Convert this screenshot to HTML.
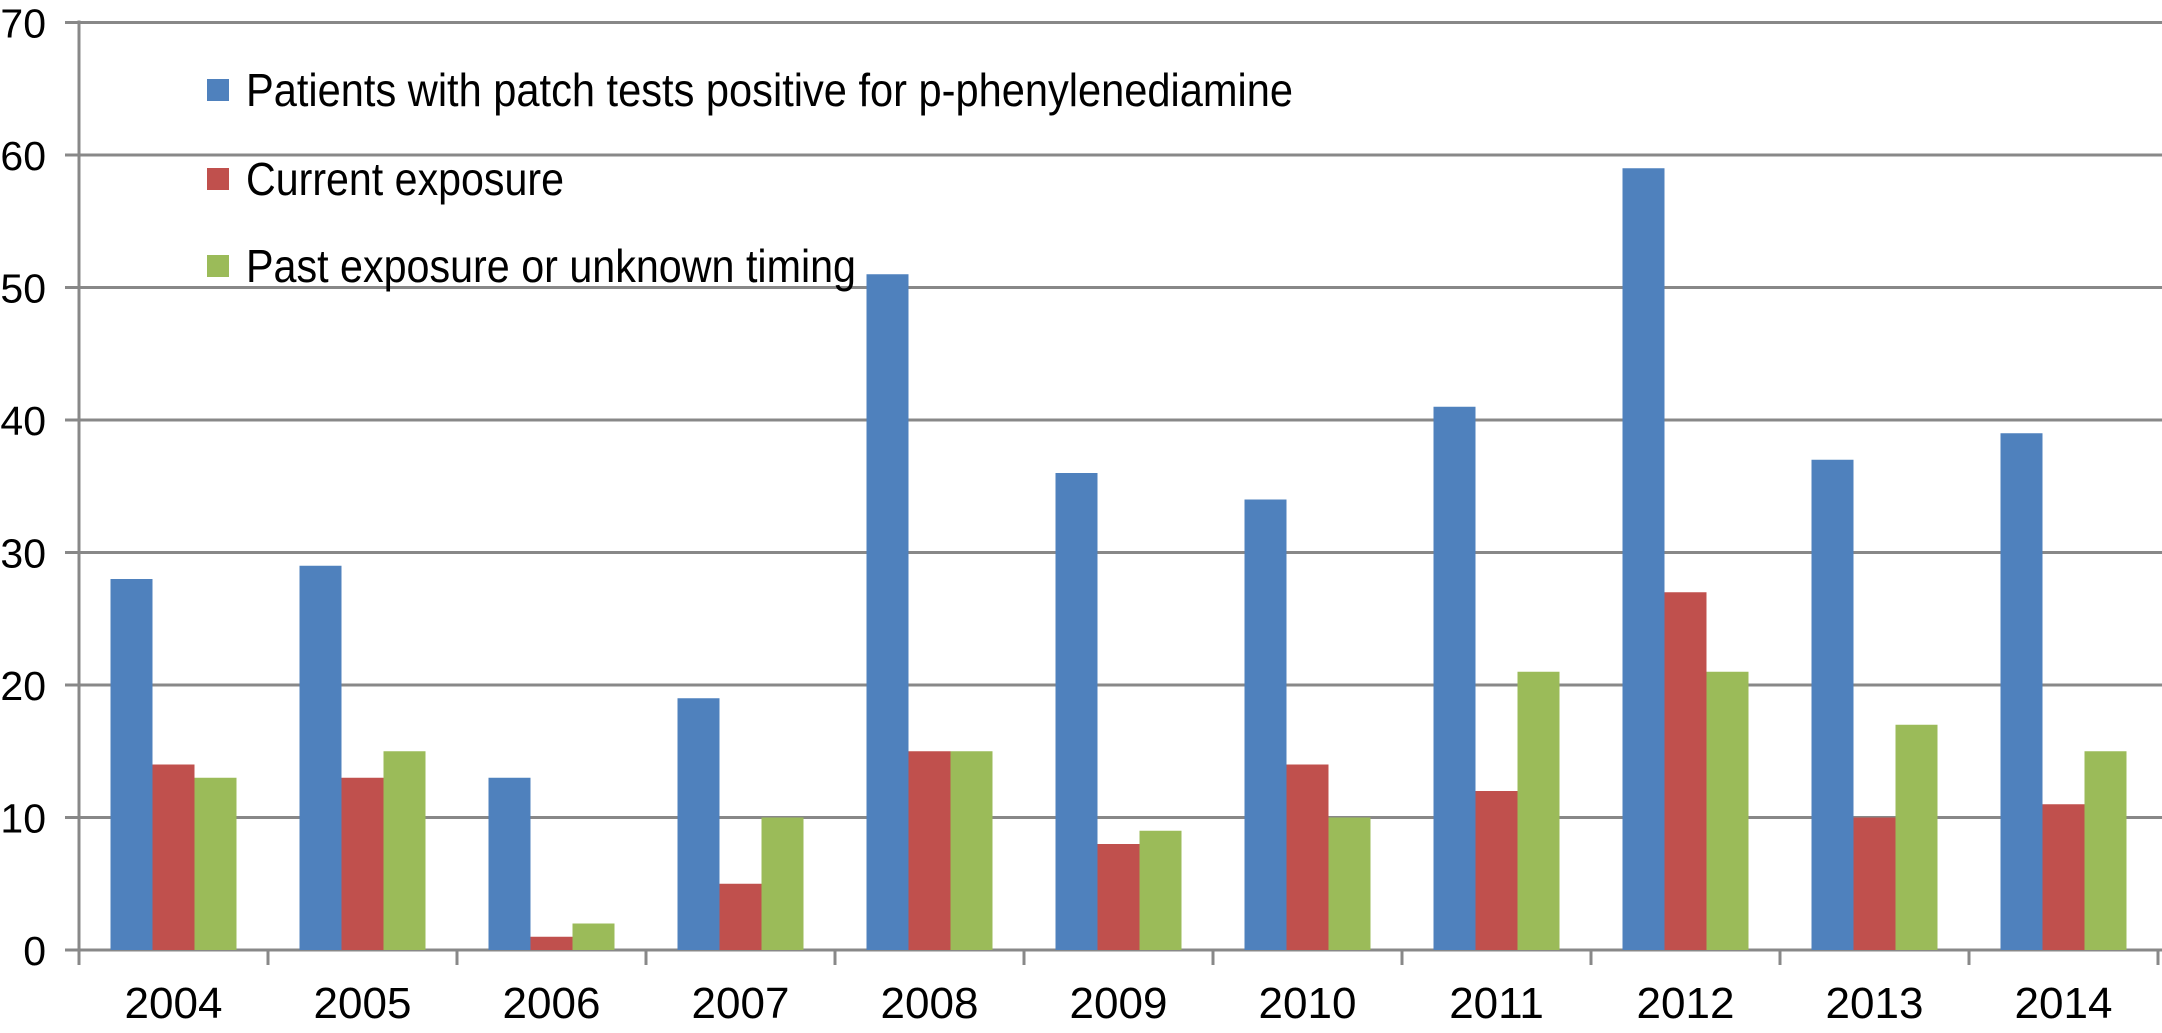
<!DOCTYPE html>
<html><head><meta charset="utf-8"><style>
html,body{margin:0;padding:0;background:#fff;}
svg{display:block;font-family:"Liberation Sans",Arial,sans-serif;}
</style></head><body>
<svg id="chart" width="2162" height="1033" viewBox="0 0 2162 1033" xmlns="http://www.w3.org/2000/svg">
<g id="grid"></g>
<g id="bars"></g>
<g id="axes"></g>
<g id="legend">
  <rect x="207" y="79" width="22" height="22" fill="#4f81bd"/>
  <text x="246" y="106" font-size="46" textLength="1047" lengthAdjust="spacingAndGlyphs">Patients with patch tests positive for p-phenylenediamine</text>
  <rect x="207" y="168" width="22" height="22" fill="#c0504d"/>
  <text x="246" y="195" font-size="46" textLength="318" lengthAdjust="spacingAndGlyphs">Current exposure</text>
  <rect x="207" y="255" width="22" height="22" fill="#9bbb59"/>
  <text x="246" y="282" font-size="46" textLength="610" lengthAdjust="spacingAndGlyphs">Past exposure or unknown timing</text>
</g>
</svg>
<script>
const categories = ["2004","2005","2006","2007","2008","2009","2010","2011","2012","2013","2014"];
const patients = [28,29,13,19,51,36,34,41,59,37,39];
const current = [14,13,1,5,15,8,14,12,27,10,11];
const past = [13,15,2,10,15,9,10,21,21,17,15];
const yTicks = [0,10,20,30,40,50,60,70];

const NS = "http://www.w3.org/2000/svg";
const X0 = 79, CAT_W = 189, Y0 = 950, PX_PER = 13.25, XEND = 2162;
const BAR_W = 42, GAP = 31.5;
function yScale(v){ return Y0 - v*PX_PER; }
function xCat(i){ return X0 + i*CAT_W; }
function mk(tag, attrs, parent){ const e=document.createElementNS(NS,tag); for(const k in attrs) e.setAttribute(k,attrs[k]); parent.appendChild(e); return e; }

const grid = document.getElementById('grid');
const axes = document.getElementById('axes');
const bars = document.getElementById('bars');

yTicks.forEach(t=>{
  const y = yScale(t);
  const l = mk('line',{x1:65,x2:XEND,y1:y,y2:y,stroke:'#888',"stroke-width":3},grid);
  
  
  const tx = mk('text',{x:46,y:y+15,"font-size":41,"text-anchor":"end",fill:"#000"},axes);
  tx.textContent = t;
  
  
});

const ya = mk('line',{x1:X0,x2:X0,y1:yScale(70)-2,y2:965,stroke:'#888',"stroke-width":3},axes);



const series = [[patients,'#4f81bd','patients'],[current,'#c0504d','current'],[past,'#9bbb59','past']];
categories.forEach((c,i)=>{
  series.forEach((s,j)=>{
    const v = s[0][i];
    const r = mk('rect',{x:xCat(i)+GAP+j*BAR_W,y:yScale(v),width:BAR_W,height:Y0-yScale(v),fill:s[1]},bars);
    
    
  });
  const tk = mk('line',{x1:xCat(i+1),x2:xCat(i+1),y1:Y0,y2:965,stroke:'#888',"stroke-width":3},axes);
  
  
  const lb = mk('text',{x:xCat(i)+CAT_W/2,y:1018,"font-size":44,"text-anchor":"middle",fill:"#000"},axes);
  lb.textContent = c;
  
  
});
</script>
</body></html>
